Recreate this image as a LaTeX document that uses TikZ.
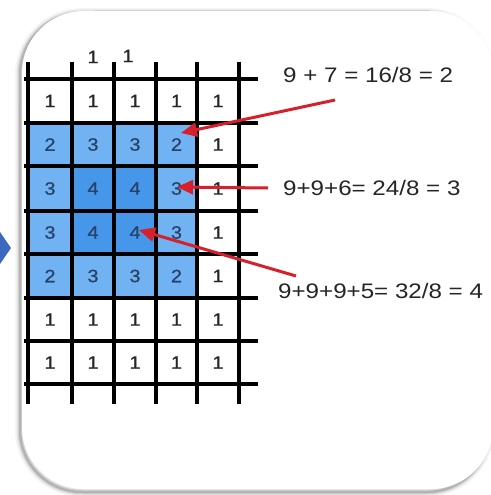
\documentclass[tikz,border=0pt]{standalone}
\usepackage{fontspec}
\setmainfont{Liberation Sans}
\newfontfamily\lab[FakeStretch=1.15]{Liberation Sans}
\newfontfamily\labb[FakeStretch=1.1,FakeBold=0.6]{Liberation Sans}
\usetikzlibrary{arrows.meta}
\definecolor{lightcell}{RGB}{112,178,242}
\definecolor{darkcell}{RGB}{70,150,234}
\definecolor{digitblue}{RGB}{38,66,104}
\definecolor{arrowred}{RGB}{214,32,44}
\definecolor{pointer}{RGB}{60,105,190}
\tikzset{
  gridline/.style={line width=3.4pt, black},
  cellnum/.style={font=\labb\fontsize{18}{18}\selectfont, text=black!85, inner sep=0pt},
  bluenum/.style={cellnum, text=digitblue},
  eqlabel/.style={font=\lab\fontsize{21}{21}\selectfont, text=black!85, anchor=west, inner sep=0pt},
  redarrow/.style={line width=3pt, draw=arrowred, -{Triangle[length=16pt,width=14pt]}},
  card/.style={fill=white, rounded corners=62pt}
}
\begin{document}
\begin{tikzpicture}[x=1pt,y=-1pt]
\useasboundingbox (0,0) rectangle (490,495);
% card shadow and card
\foreach \w/\o in {10/0.04,7/0.06,4.5/0.09,2.5/0.14}{
  \draw[line width=\w pt, black, opacity=\o, rounded corners=62pt] (20,13) rectangle (489,492);
}
\fill[card] (22,11) rectangle (493,489);
\draw[black!18, line width=1pt] (95,11) -- (430,11);
% pointer triangle
\fill[pointer] (0,232) -- (11,248) -- (0,264) -- cycle;
% cell fills
\def\X{{28,72,114,156,197,239}}
\def\Y{{79,123,166,211,254,298,341,384}}
\foreach \r/\c/\col in {2/1/lightcell,2/2/lightcell,2/3/lightcell,2/4/lightcell,
  3/1/lightcell,3/2/darkcell,3/3/darkcell,3/4/lightcell,
  4/1/lightcell,4/2/darkcell,4/3/darkcell,4/4/lightcell,
  5/1/lightcell,5/2/lightcell,5/3/lightcell,5/4/lightcell}{
  \pgfmathsetmacro{\xa}{\X[\c-1]}\pgfmathsetmacro{\xb}{\X[\c]}
  \pgfmathsetmacro{\ya}{\Y[\r-1]}\pgfmathsetmacro{\yb}{\Y[\r]}
  \fill[\col] (\xa,\ya) rectangle (\xb,\yb);
}
% grid lines
\foreach \x in {28,72,114,156,197,239}{\draw[gridline] (\x,62) -- (\x,404);}
\foreach \y in {79,123,166,211,254,298,341,384}{\draw[gridline] (24,\y) -- (258,\y);}
% header ones
\node[cellnum] (h1) at (93,57) {1};
\node[cellnum] (h2) at (128,56) {1};
% cell numbers
\foreach \r/\row in {1/{1,1,1,1,1},2/{2,3,3,2,1},3/{3,4,4,3,1},4/{3,4,4,3,1},5/{2,3,3,2,1},6/{1,1,1,1,1},7/{1,1,1,1,1}}{
  \foreach \v [count=\c] in \row{
    \pgfmathsetmacro{\xa}{\X[\c-1]}\pgfmathsetmacro{\xb}{\X[\c]}
    \pgfmathsetmacro{\ya}{\Y[\r-1]}\pgfmathsetmacro{\yb}{\Y[\r]}
    \pgfmathsetmacro{\xm}{(\xa+\xb)/2}
    \pgfmathsetmacro{\ym}{(\ya+\yb)/2}
    \pgfmathtruncatemacro{\isblue}{(\c<5)&&(\r>1)&&(\r<6)}
    \ifnum\isblue=1
      \node[bluenum] (c\r\c) at (\xm,\ym) {\v};
    \else
      \node[cellnum] (c\r\c) at (\xm,\ym) {\v};
    \fi
  }
}
% labels
\node[eqlabel] (eq1) at (283,75) {9 + 7 = 16/8 = 2};
\node[eqlabel] (eq2) at (283,188) {9+9+6= 24/8 = 3};
\node[eqlabel] (eq3) at (278,291) {9+9+9+5= 32/8 = 4};
% arrows
\coordinate (s1) at (335,100);
\coordinate (t1) at (181,133);
\coordinate (s2) at (268,188);
\coordinate (t2) at (177,187);
\coordinate (s3) at (296,276);
\coordinate (t3) at (139,230);
\draw[redarrow] (s1) -- (t1);
\draw[redarrow] (s2) -- (t2);
\draw[redarrow] (s3) -- (t3);
\end{tikzpicture}
\end{document}
